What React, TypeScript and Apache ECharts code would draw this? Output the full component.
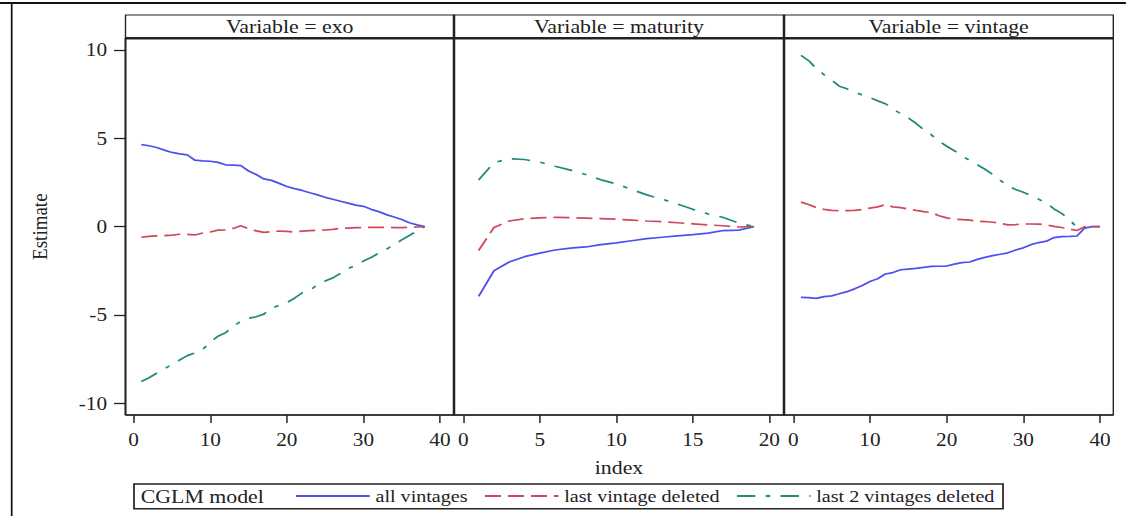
import React, { useEffect, useRef } from "react";
import * as echarts from "echarts";

// ---------- data ----------
const panelTitles = ["Variable = exo", "Variable = maturity", "Variable = vintage"];
const seriesNames = ["all vintages", "last vintage deleted", "last 2 vintages deleted"];
const legendTitle = "CGLM model";
const xAxisName = "index";
const yAxisName = "Estimate";

const yTicks = [-10, -5, 0, 5, 10];
const xTicksExo = [0, 10, 20, 30, 40];
const xTicksMaturity = [0, 5, 10, 15, 20];
const xTicksVintage = [0, 10, 20, 30, 40];

const exoIndex = [1, 2, 3, 4, 5, 6, 7, 8, 9, 10, 11, 12, 13, 14, 15, 16, 17, 18, 19, 20, 21, 22, 23, 24, 25, 26, 27, 28, 29, 30, 31, 32, 33, 34, 35, 36, 37, 38];
const exoAll = [4.64, 4.58, 4.48, 4.33, 4.2, 4.12, 4.06, 3.76, 3.72, 3.7, 3.64, 3.5, 3.48, 3.45, 3.15, 2.95, 2.7, 2.62, 2.45, 2.27, 2.15, 2.05, 1.92, 1.8, 1.66, 1.55, 1.44, 1.33, 1.22, 1.15, 0.98, 0.85, 0.68, 0.55, 0.4, 0.22, 0.1, 0.0];
const exoLast = [-0.6, -0.55, -0.52, -0.51, -0.48, -0.43, -0.44, -0.47, -0.36, -0.3, -0.2, -0.19, -0.1, 0.05, -0.12, -0.24, -0.32, -0.28, -0.25, -0.27, -0.3, -0.25, -0.22, -0.2, -0.19, -0.15, -0.1, -0.08, -0.06, -0.05, -0.04, -0.04, -0.04, -0.05, -0.06, -0.04, -0.02, 0.0];
const exoLast2 = [-8.76, -8.55, -8.3, -8.05, -7.8, -7.55, -7.3, -7.15, -6.95, -6.55, -6.2, -6.0, -5.65, -5.35, -5.18, -5.1, -4.95, -4.62, -4.45, -4.3, -4.05, -3.75, -3.6, -3.3, -3.08, -2.9, -2.65, -2.38, -2.18, -1.95, -1.75, -1.5, -1.28, -1.02, -0.75, -0.5, -0.25, 0.0];

const matIndex = [1, 2, 3, 4, 5, 6, 7, 8, 9, 10, 11, 12, 13, 14, 15, 16, 17, 18, 19];
const matAll = [-3.95, -2.5, -2.0, -1.7, -1.5, -1.32, -1.22, -1.15, -1.02, -0.92, -0.8, -0.68, -0.6, -0.52, -0.45, -0.37, -0.22, -0.2, 0.0];
const matLast = [-1.35, -0.05, 0.32, 0.45, 0.5, 0.52, 0.51, 0.48, 0.45, 0.42, 0.37, 0.32, 0.28, 0.22, 0.16, 0.1, 0.05, -0.02, 0.0];
const matLast2 = [2.64, 3.62, 3.84, 3.8, 3.65, 3.42, 3.2, 2.95, 2.65, 2.42, 2.1, 1.8, 1.55, 1.28, 0.98, 0.72, 0.52, 0.2, 0.0];

const vinIndex = [1, 2, 3, 4, 5, 6, 7, 8, 9, 10, 11, 12, 13, 14, 15, 16, 17, 18, 19, 20, 21, 22, 23, 24, 25, 26, 27, 28, 29, 30, 31, 32, 33, 34, 35, 36, 37, 38, 39, 40];
const vinAll = [-4.0, -4.02, -4.06, -3.96, -3.92, -3.8, -3.68, -3.52, -3.33, -3.1, -2.95, -2.68, -2.6, -2.44, -2.4, -2.36, -2.3, -2.25, -2.24, -2.23, -2.12, -2.04, -2.0, -1.85, -1.74, -1.64, -1.56, -1.48, -1.32, -1.2, -1.02, -0.9, -0.82, -0.62, -0.56, -0.55, -0.53, -0.08, 0.0, 0.0];
const vinLast = [1.39, 1.25, 1.08, 0.98, 0.92, 0.91, 0.91, 0.92, 0.97, 1.05, 1.12, 1.24, 1.12, 1.08, 1.0, 0.92, 0.85, 0.8, 0.62, 0.5, 0.42, 0.4, 0.37, 0.3, 0.29, 0.25, 0.19, 0.1, 0.12, 0.15, 0.15, 0.14, 0.1, 0.02, -0.05, -0.13, -0.22, 0.0, 0.0, 0.0];
const vinLast2 = [9.69, 9.4, 8.95, 8.6, 8.3, 7.95, 7.8, 7.62, 7.45, 7.3, 7.12, 6.96, 6.65, 6.4, 6.15, 5.85, 5.5, 5.2, 4.85, 4.55, 4.3, 4.0, 3.75, 3.5, 3.25, 2.96, 2.62, 2.3, 2.1, 1.95, 1.75, 1.55, 1.34, 1.0, 0.75, 0.4, -0.05];

// ---------- layout / style ----------
const S = 1.15; // horizontal stretch of the reference
const W = 1126 / S;
const H = 516;
const u = (x: number) => x / S;
const FONT = "'Liberation Serif', 'Times New Roman', serif";
const INK = "#222";
const COLORS = ["#4f4ff0", "#d0485a", "#23897a"];
const DASHES: any[] = ["solid", [14, 6], [16, 9, 4, 9]];

const panelsPx = [
  [125.5, 454],
  [454, 784],
  [784, 1113.3],
];
const plotTop = 38.3;
const plotBottom = 415;
const headTop = 15;
const xRanges = [
  [-1.07, 41.83],
  [-0.61, 20.96],
  [-1.21, 41.73],
];
const yRange = [-10.66, 10.66];

export default function App() {
  const ref = useRef<HTMLDivElement>(null);
  useEffect(() => {
    if (!ref.current) return;
    const chart = echarts.init(ref.current, null, { renderer: "svg", width: W, height: H });

    const xTickSets = [xTicksExo, xTicksMaturity, xTicksVintage];
    const data = [
      [exoIndex, [exoAll, exoLast, exoLast2]],
      [matIndex, [matAll, matLast, matLast2]],
      [vinIndex, [vinAll, vinLast, vinLast2]],
    ] as any[];

    const grids = panelsPx.map(([l, r]) => ({
      left: u(l),
      width: u(r - l),
      top: plotTop,
      height: plotBottom - plotTop,
      show: true,
      borderColor: INK,
      borderWidth: 1.2,
      backgroundColor: "#fff",
    }));

    const xAxes = panelsPx.map((_, i) => ({
      type: "value",
      gridIndex: i,
      position: "bottom",
      min: xRanges[i][0],
      max: xRanges[i][1],
      axisLine: { show: false, onZero: false },
      splitLine: { show: false },
      axisTick: {
        show: true,
        inside: false,
        length: 8,
        customValues: xTickSets[i],
        lineStyle: { color: INK, width: 1.3 },
      },
      axisLabel: {
        customValues: xTickSets[i],
        margin: 15,
        fontFamily: FONT,
        fontSize: 18.5,
        color: INK,
      },
      ...(i === 1
        ? {
            name: xAxisName,
            nameLocation: "middle",
            nameGap: 43,
            nameTextStyle: { fontFamily: FONT, fontSize: 19, color: INK },
          }
        : {}),
    }));

    const yAxes = panelsPx.map((_, i) => ({
      type: "value",
      gridIndex: i,
      position: "left",
      min: yRange[0],
      max: yRange[1],
      show: i === 0,
      axisLine: { show: false, onZero: false },
      splitLine: { show: false },
      axisTick: {
        show: true,
        length: 10,
        customValues: yTicks,
        lineStyle: { color: INK, width: 1.3 },
      },
      axisLabel: {
        customValues: yTicks,
        margin: 16,
        fontFamily: FONT,
        fontSize: 18.5,
        color: INK,
      },
      ...(i === 0
        ? {
            name: yAxisName,
            nameLocation: "middle",
            nameGap: 65,
            nameRotate: 90,
            nameTextStyle: { fontFamily: FONT, fontSize: 19, color: INK },
          }
        : {}),
    }));

    const series: any[] = [];
    data.forEach(([xs, ysets]: any, p: number) => {
      ysets.forEach((ys: number[], k: number) => {
        series.push({
          type: "line",
          name: seriesNames[k],
          xAxisIndex: p,
          yAxisIndex: p,
          data: ys.map((y, j) => [xs[j], y]),
          symbol: "none",
          showSymbol: false,
          silent: true,
          lineStyle: { color: COLORS[k], width: 1.7, type: DASHES[k] },
          itemStyle: { color: COLORS[k] },
          z: 3,
        });
      });
    });

    const graphics: any[] = [];
    // outer frame
    graphics.push({ type: "line", shape: { x1: 0, y1: 3, x2: W, y2: 3 }, style: { stroke: "#111", lineWidth: 2 }, z: 10 });
    graphics.push({ type: "line", shape: { x1: u(11.7), y1: 3, x2: u(11.7), y2: H }, style: { stroke: "#111", lineWidth: 1.5 }, z: 10 });
    // panel headers
    panelsPx.forEach(([l, r], i) => {
      graphics.push({
        type: "rect",
        shape: { x: u(l), y: headTop, width: u(r - l), height: plotTop - headTop },
        style: { fill: "#fff", stroke: INK, lineWidth: 1.2 },
        z: 10,
      });
      graphics.push({
        type: "text",
        x: u((l + r) / 2),
        y: (headTop + plotTop) / 2,
        style: { text: panelTitles[i], fontFamily: FONT, fontSize: 19, fill: INK, align: "center", verticalAlign: "middle" },
        z: 11,
      });
    });
    // thick header bottom and panel dividers
    graphics.push({ type: "line", shape: { x1: u(125.5), y1: plotTop, x2: u(1113.3), y2: plotTop }, style: { stroke: INK, lineWidth: 2.6 }, z: 12 });
    [454, 784].forEach((x) => {
      graphics.push({ type: "line", shape: { x1: u(x), y1: headTop, x2: u(x), y2: plotBottom }, style: { stroke: INK, lineWidth: 2.2 }, z: 12 });
    });
    graphics.push({ type: "line", shape: { x1: u(125.5), y1: plotTop, x2: u(125.5), y2: plotBottom }, style: { stroke: INK, lineWidth: 1.6 }, z: 12 });
    graphics.push({ type: "line", shape: { x1: u(125.5), y1: plotBottom, x2: u(1113.3), y2: plotBottom }, style: { stroke: INK, lineWidth: 1.6 }, z: 12 });
    // legend frame and title
    graphics.push({
      type: "rect",
      shape: { x: u(134), y: 484, width: u(1003 - 134), height: 24.7 },
      style: { fill: "none", stroke: INK, lineWidth: 1.5 },
      z: 10,
    });
    graphics.push({
      type: "text",
      x: u(140.7),
      y: 496.5,
      style: { text: legendTitle, fontFamily: FONT, fontSize: 19, fill: INK, align: "left", verticalAlign: "middle" },
      z: 11,
    });

    chart.setOption({
      animation: false,
      backgroundColor: "#fff",
      grid: grids,
      xAxis: xAxes,
      yAxis: yAxes,
      series,
      legend: {
        data: seriesNames,
        left: 256.5,
        top: 487,
        padding: 0,
        itemWidth: 64,
        itemHeight: 12,
        itemGap: 14,
        selectedMode: false,
        itemStyle: { opacity: 0 },
        textStyle: { fontFamily: FONT, fontSize: 17.5, color: INK },
      },
      graphic: graphics,
    });
    return () => chart.dispose();
  }, []);

  return (
    <div style={{ position: "fixed", left: 0, top: 0, width: 1126, height: H, overflow: "hidden", background: "#fff" }}>
      <div
        ref={ref}
        style={{ width: W, height: H, transform: `scaleX(${S})`, transformOrigin: "0 0" }}
      />
    </div>
  );
}
